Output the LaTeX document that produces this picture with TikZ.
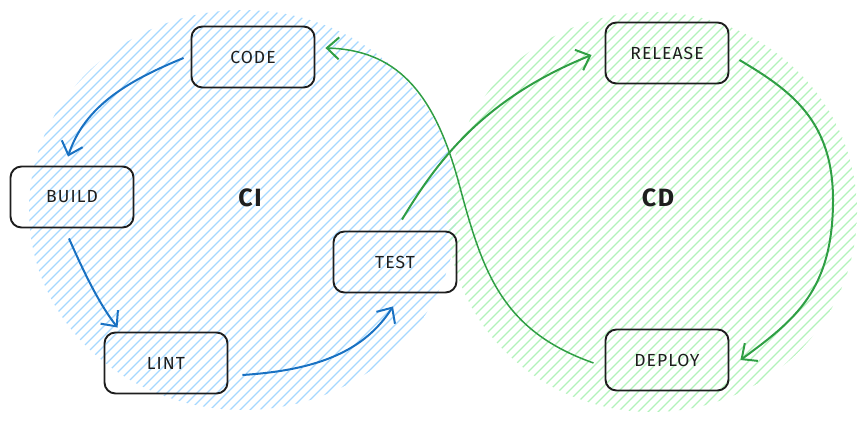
\documentclass[tikz,border=0pt]{standalone}
\usepackage{fontspec}
\setmainfont{Fira Sans}[LetterSpace=6]
\usetikzlibrary{arrows.meta}
\definecolor{inkc}{HTML}{1E1E1E}
\definecolor{blueln}{HTML}{1971C2}
\definecolor{greenln}{HTML}{2F9E44}
\definecolor{bluehatch}{HTML}{A5D8FF}
\definecolor{greenhatch}{HTML}{B2F2BB}
\tikzset{
  stage/.style={draw=inkc, line width=1.9pt, rounded corners=11pt,
    minimum width=123pt, minimum height=61pt, inner sep=0pt,
    font=\fontsize{17.5}{17.5}\selectfont, text=inkc},
  zone/.style={font=\fontsize{25}{25}\selectfont\bfseries, text=inkc},
  flowb/.style={draw=blueln, line width=2pt,
    -{Straight Barb[length=12pt,width=22pt,line width=2pt]}},
  flowg/.style={draw=greenln, line width=2pt,
    -{Straight Barb[length=12pt,width=22pt,line width=2pt]}},
  hatchline/.style={line width=1.15pt}
}
\begin{document}
\begin{tikzpicture}[x=1pt,y=-1pt]
\useasboundingbox (0,0) rectangle (864,422);
% hatched zones
\begin{scope}
  \clip (243,210) ellipse [x radius=214, y radius=200];
  \foreach \s in {-520,-510,...,900} {
    \draw[bluehatch, hatchline] (\s,460) -- ++(520,-520);
  }
\end{scope}
\begin{scope}
  \clip (652,212) ellipse [x radius=205, y radius=200];
  \foreach \s in {-520,-510,...,1300} {
    \draw[greenhatch, hatchline] (\s,460) -- ++(520,-520);
  }
\end{scope}
% nodes
\node[stage] (code) at (253,57) {CODE};
\node[stage] (build) at (72,197) {BUILD};
\node[stage] (lint) at (166,363) {LINT};
\node[stage] (test) at (395,262) {TEST};
\node[stage] (release) at (667,53) {RELEASE};
\node[stage] (deploy) at (667,360) {DEPLOY};
\node[zone] (ci) at (250,198) {CI};
\node[zone] (cd) at (658,198) {CD};
% CI arrows
\draw[flowb] ([xshift=-7pt,yshift=-1pt]code.west)
  .. controls (130,80) and (85,105) .. ([xshift=-4pt,yshift=9pt]build.north);
\draw[flowb] ([xshift=-3pt,yshift=-10pt]build.south)
  .. controls (85,275) and (100,305) .. ([xshift=14pt,yshift=4pt]lint.north west);
\draw[flowb] ([xshift=14pt,yshift=-12pt]lint.east)
  .. controls (320,370) and (365,350) .. ([xshift=-2pt,yshift=-13pt]test.south);
% CD arrows
\draw[flowg] ([xshift=7pt,yshift=11pt]test.north)
  .. controls (435,165) and (480,100) .. ([xshift=-13pt,yshift=-2pt]release.west);
\draw[flowg] ([xshift=10pt,yshift=-7pt]release.east)
  .. controls (790,90) and (833,120) .. (833,200)
  .. controls (833,290) and (795,320) .. ([xshift=11pt]deploy.east);
\draw[flowg, line width=1.5pt] ([xshift=-11pt,yshift=-3pt]deploy.west)
  .. controls (500,330) and (482,270) .. (458,180)
  .. controls (433,90) and (395,50) .. ([xshift=10pt,yshift=9pt]code.east);
\end{tikzpicture}
\end{document}
